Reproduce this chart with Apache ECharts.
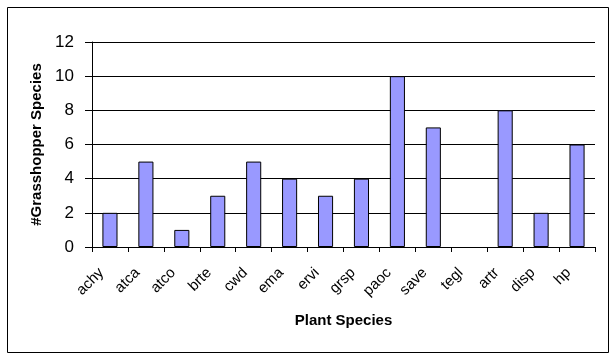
<!DOCTYPE html>
<html><head><meta charset="utf-8">
<script src="https://cdn.jsdelivr.net/npm/echarts@6/dist/echarts.min.js"></script>
<style>html,body{margin:0;padding:0;background:#fff}#c{width:616px;height:360px}</style>
</head><body><div id="c"></div>
<script>
const categories = ['achy','atca','atco','brte','cwd','ema','ervi','grsp','paoc','save','tegl','artr','disp','hp'];
const values = [2,5,1,3,5,4,3,4,10,7,0,8,2,6];
const yTicks = [0,2,4,6,8,10,12];

const FONT = 'Arial, "Liberation Sans", sans-serif';
const chart = echarts.init(document.getElementById('c'), null, {renderer:'canvas'});
chart.setOption({
  animation:false,
  backgroundColor:'#fff',
  textStyle:{fontFamily:FONT, color:'#000'},
  graphic:[{type:'rect', shape:{x:7.5,y:7.5,width:601,height:345}, style:{fill:'none',stroke:'#000',lineWidth:1}, silent:true}],
  grid:{left:92,right:21,top:42,bottom:113},
  xAxis:{
    type:'category', data:categories,
    name:'Plant Species', nameLocation:'middle', nameGap:66,
    nameTextStyle:{fontSize:15,fontWeight:'bold',color:'#000',fontFamily:FONT},
    axisLine:{lineStyle:{color:'#000',width:1}},
    axisTick:{show:true,length:5,lineStyle:{color:'#000'}},
    axisLabel:{rotate:45,fontSize:15,color:'#000',margin:15,interval:0,padding:[0,12,0,0]}
  },
  yAxis:{
    type:'value', min:yTicks[0], max:yTicks[yTicks.length-1], interval:2,
    name:'#Grasshopper Species', nameLocation:'middle', nameGap:47,
    nameTextStyle:{fontSize:15,fontWeight:'bold',color:'#000',fontFamily:FONT},
    axisLine:{show:true,lineStyle:{color:'#000',width:1}},
    axisTick:{show:true,length:7,lineStyle:{color:'#000'}},
    axisLabel:{fontSize:17,color:'#000',margin:18},
    splitLine:{show:true,lineStyle:{color:'#000',width:1}}
  },
  series:[{
    type:'bar', barWidth:'42%',
    data:values.map(v => v === 0 ? {value:v, itemStyle:{borderWidth:0}} : v),
    itemStyle:{color:'#9999FF',borderColor:'#000',borderWidth:1}
  }]
});
</script></body></html>
